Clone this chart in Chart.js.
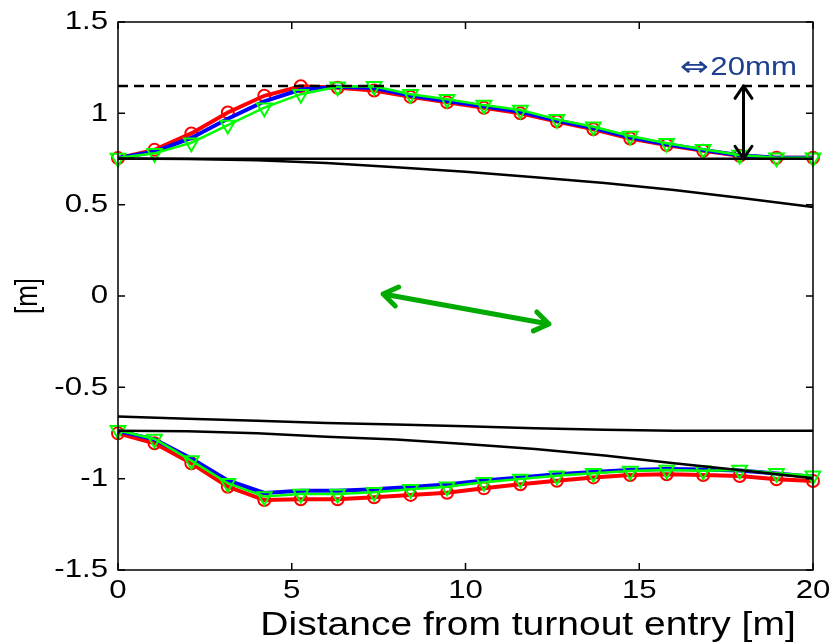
<!DOCTYPE html>
<html>
<head>
<meta charset="utf-8">
<script src="https://cdn.jsdelivr.net/npm/chart.js@4.4.0/dist/chart.umd.min.js"></script>
<style>
html, body { margin: 0; padding: 0; background: #fff; }
</style>
</head>
<body>
<canvas id="myChart" width="833" height="642"></canvas>
<script>
// stations along the turnout [m]
var stations = [0, 1.05, 2.11, 3.16, 4.21, 5.26, 6.32, 7.37, 8.42, 9.47, 10.53, 11.58, 12.63, 13.68, 14.74, 15.79, 16.84, 17.89, 18.95, 20];

// upper envelope, three runs
var topRed   = [0.755, 0.800, 0.890, 1.005, 1.096, 1.148, 1.140, 1.125, 1.090, 1.060, 1.030, 1.000, 0.955, 0.913, 0.862, 0.826, 0.795, 0.768, 0.757, 0.757];
var topBlue  = [0.755, 0.790, 0.865, 0.970, 1.065, 1.130, 1.145, 1.138, 1.098, 1.068, 1.038, 1.009, 0.961, 0.920, 0.869, 0.831, 0.799, 0.770, 0.757, 0.757];
var topGreen = [0.755, 0.781, 0.839, 0.936, 1.031, 1.105, 1.146, 1.148, 1.105, 1.077, 1.045, 1.018, 0.967, 0.927, 0.876, 0.836, 0.803, 0.772, 0.757, 0.757];

// lower envelope, three runs
var botRed   = [-0.752, -0.806, -0.916, -1.044, -1.117, -1.113, -1.113, -1.102, -1.089, -1.077, -1.053, -1.031, -1.011, -0.993, -0.980, -0.976, -0.980, -0.985, -1.003, -1.013];
var botBlue  = [-0.740, -0.785, -0.890, -1.010, -1.078, -1.066, -1.066, -1.058, -1.045, -1.032, -1.010, -0.993, -0.976, -0.963, -0.952, -0.947, -0.950, -0.955, -0.972, -0.990];
var botGreen = [-0.735, -0.783, -0.901, -1.025, -1.098, -1.084, -1.084, -1.075, -1.058, -1.044, -1.020, -1.002, -0.984, -0.971, -0.958, -0.952, -0.956, -0.952, -0.971, -0.984];

// rail geometry
var railX        = [0, 2, 4, 6, 8, 10, 12, 14, 16, 18, 20];
var railCurveTop = [0.753, 0.750, 0.743, 0.728, 0.705, 0.680, 0.650, 0.618, 0.580, 0.535, 0.487];
var railInnerBot = [-0.660, -0.672, -0.683, -0.695, -0.703, -0.713, -0.724, -0.732, -0.737, -0.738, -0.738];
var railCurveBot = [-0.737, -0.740, -0.752, -0.770, -0.785, -0.810, -0.838, -0.873, -0.915, -0.955, -0.998];
var railStraight = 0.752;
var limitLine = 1.15;

var yTicks = [-1.5, -1, -0.5, 0, 0.5, 1, 1.5];
var xTicks = [0, 5, 10, 15, 20];
var xTitle = "Distance from turnout entry [m]";
var yTitle = "[m]";

var FONT = "Arial, 'Liberation Sans', sans-serif";
var STRETCH = 1.2;   // text in this figure is a bit wide

function pts(xs, ys) {
    var out = [];
    for (var i = 0; i < xs.length; i++) out.push({x: xs[i], y: ys[i]});
    return out;
}

function blackLine(data, dash) {
    return {data: data, borderColor: "#000", borderWidth: 2.5, borderDash: dash || [],
            pointRadius: 0, fill: false, order: 0, clip: false};
}

function run(data, color, style, r, w, ord) {
    return {data: data, borderColor: color, backgroundColor: "rgba(0,0,0,0)",
            borderWidth: w, pointStyle: style, pointRadius: r, pointBorderWidth: 2,
            pointRotation: style == "triangle" ? 180 : 0,
            pointBorderColor: color, fill: false, order: ord, clip: false};
}

function arrow(ctx, x1, y1, x2, y2, head, color, w) {
    var a = Math.atan2(y2 - y1, x2 - x1);
    ctx.save();
    ctx.strokeStyle = color;
    ctx.lineWidth = w;
    ctx.lineCap = "round";
    ctx.lineJoin = "round";
    ctx.beginPath();
    ctx.moveTo(x1, y1);
    ctx.lineTo(x2, y2);
    [[x1, y1, a + Math.PI], [x2, y2, a]].forEach(function (e) {
        ctx.moveTo(e[0] - head * Math.cos(e[2] - 0.6), e[1] - head * Math.sin(e[2] - 0.6));
        ctx.lineTo(e[0], e[1]);
        ctx.lineTo(e[0] - head * Math.cos(e[2] + 0.6), e[1] - head * Math.sin(e[2] + 0.6));
    });
    ctx.stroke();
    ctx.restore();
}

function wideText(ctx, text, x, y, size, align, color, family, rot) {
    ctx.save();
    ctx.translate(x, y);
    ctx.scale(STRETCH, 1);
    if (rot) ctx.rotate(rot);
    ctx.font = size + "px " + (family || FONT);
    ctx.fillStyle = color || "#000";
    ctx.textAlign = align;
    ctx.textBaseline = "middle";
    ctx.fillText(text, 0, 0);
    ctx.restore();
}

// box, inward ticks, labels, arrows and the 20mm note
var extras = {
    id: "extras",
    afterDatasetsDraw: function (chart) {
        var ctx = chart.ctx, a = chart.chartArea;
        var xs = chart.scales.x, ys = chart.scales.y;
        ctx.save();
        ctx.strokeStyle = "#000";
        ctx.lineWidth = 1.5;
        ctx.strokeRect(a.left, a.top, a.right - a.left, a.bottom - a.top);
        ctx.beginPath();
        yTicks.forEach(function (v) {
            var p = ys.getPixelForValue(v);
            ctx.moveTo(a.left, p); ctx.lineTo(a.left + 7, p);
            ctx.moveTo(a.right, p); ctx.lineTo(a.right - 7, p);
        });
        xTicks.forEach(function (v) {
            var p = xs.getPixelForValue(v);
            ctx.moveTo(p, a.bottom); ctx.lineTo(p, a.bottom - 7);
            ctx.moveTo(p, a.top); ctx.lineTo(p, a.top + 7);
        });
        ctx.stroke();
        ctx.restore();

        yTicks.forEach(function (v) {
            wideText(ctx, String(v), a.left - 10, ys.getPixelForValue(v), 26, "right");
        });
        xTicks.forEach(function (v) {
            wideText(ctx, String(v), xs.getPixelForValue(v), a.bottom + 21, 26, "center");
        });
        wideText(ctx, xTitle, a.left + 0.59 * (a.right - a.left), a.bottom + 56, 32.5, "center");
        wideText(ctx, yTitle, 28, (a.top + a.bottom) / 2, 26, "center", "#000", FONT, -Math.PI / 2);

        arrow(ctx, xs.getPixelForValue(18), ys.getPixelForValue(limitLine),
              xs.getPixelForValue(18), ys.getPixelForValue(railStraight), 15, "#000", 3);
        arrow(ctx, xs.getPixelForValue(7.63), ys.getPixelForValue(0.011),
              xs.getPixelForValue(12.4), ys.getPixelForValue(-0.153), 17, "#00aa00", 5);

        var nx = xs.getPixelForValue(19.54), ny = ys.getPixelForValue(1.25);
        wideText(ctx, "20mm", nx, ny, 26, "right", "#1c3f8f");
        wideText(ctx, "\u21D4", nx - 88, ny + 1, 29, "right", "#1c3f8f", "'DejaVu Sans', sans-serif");
    }
};

var ctx = document.getElementById("myChart").getContext("2d");

var myChart = new Chart(ctx, {
    type: "line",
    data: {
        datasets: [
            blackLine(pts([0, 20], [railStraight, railStraight])),
            blackLine(pts([0, 20], [limitLine, limitLine]), [10, 6]),
            blackLine(pts(railX, railCurveTop)),
            blackLine(pts(railX, railInnerBot)),
            blackLine(pts(railX, railCurveBot)),
            run(pts(stations, topGreen), "#00ff00", "triangle", 8.5, 2.5, 1),
            run(pts(stations, topBlue), "#0000ff", "circle", 0, 4, 2),
            run(pts(stations, topRed), "#ff0000", "circle", 6, 4, 3),
            run(pts(stations, botGreen), "#00ff00", "triangle", 8.5, 2.5, 1),
            run(pts(stations, botBlue), "#0000ff", "circle", 0, 4, 2),
            run(pts(stations, botRed), "#ff0000", "circle", 6, 4, 3)
        ]
    },
    options: {
        responsive: false,
        animation: false,
        devicePixelRatio: 1,
        layout: {padding: {top: 22, right: 20, left: 0, bottom: 0}},
        plugins: {legend: {display: false}, tooltip: {enabled: false}},
        elements: {line: {tension: 0}},
        scales: {
            x: {
                type: "linear", min: 0, max: 20,
                afterBuildTicks: function (s) { s.ticks = xTicks.map(function (v) { return {value: v}; }); },
                afterFit: function (s) { s.height = 72; },
                grid: {display: false, drawTicks: false},
                border: {display: false},
                ticks: {display: false}
            },
            y: {
                type: "linear", min: -1.5, max: 1.5,
                afterBuildTicks: function (s) { s.ticks = yTicks.map(function (v) { return {value: v}; }); },
                afterFit: function (s) { s.width = 118; },
                grid: {display: false, drawTicks: false},
                border: {display: false},
                ticks: {display: false}
            }
        }
    },
    plugins: [extras]
});
</script>
</body>
</html>
